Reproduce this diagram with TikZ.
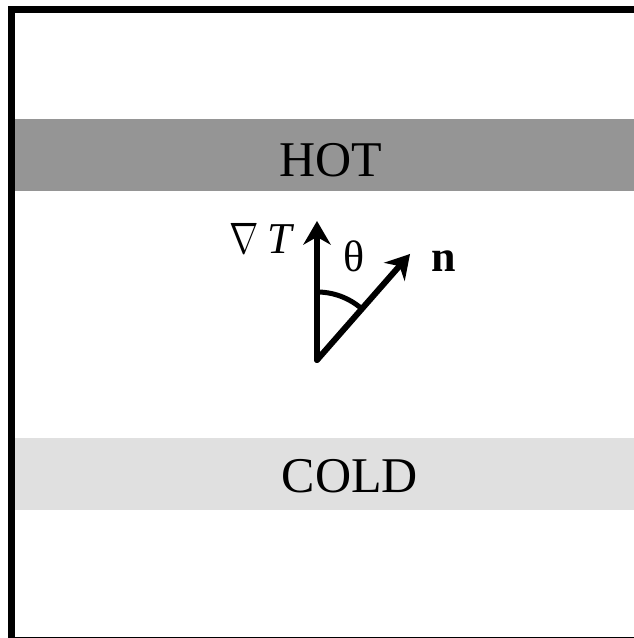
\documentclass[tikz,border=0pt]{standalone}
\usepackage{fix-cm}
\usepackage{fontspec}
\usepackage{graphicx}
\setmainfont{Liberation Serif}
\usetikzlibrary{arrows.meta}
\definecolor{hotc}{HTML}{959595}
\definecolor{coldc}{HTML}{E0E0E0}
\begin{document}
\begin{tikzpicture}[x=1pt,y=1pt,
  vec/.style={line width=6pt, line cap=round, -{Stealth[length=24pt,width=28pt,inset=8pt,line width=0pt]}},
  anglearc/.style={line width=5pt},
  lbl/.style={inner sep=0pt, font=\fontsize{44}{50}\selectfont},
  bandlbl/.style={inner sep=0pt, font=\fontsize{50}{56}\selectfont},
  frame/.style={line width=7pt}]
\useasboundingbox (0,0) rectangle (634,638);
% bands
\fill[hotc] (11.5,447) rectangle (640,519);
\fill[coldc] (11.5,128) rectangle (640,200);
\node[bandlbl, anchor=base] (hot) at (330.5,461) {HOT};
\node[bandlbl, anchor=base] (cold) at (350,145) {COLD};
% vectors
\coordinate (O) at (317,278);
\coordinate (gT) at (317,417);
\coordinate (nT) at (410,384);
\coordinate (arcstart) at (317,346);
\draw[anglearc] (arcstart) arc[start angle=90, end angle=48.8, radius=68];
\draw[vec] (O) -- (gT);
\draw[vec] (O) -- (nT);
\node[lbl, anchor=base west] (gradT) at (229,384) {\scalebox{0.8}[1]{$\nabla$}\hspace{0.2em}\textit{T}};
\node[lbl, anchor=base] (theta) at (354.5,366) {θ};
\node[lbl, anchor=base west] (nvec) at (431,366) {\textbf{n}};
% frame
\draw[frame] (650,-2.5) -- (11.5,-2.5) -- (11.5,628) -- (650,628);
\end{tikzpicture}
\end{document}
